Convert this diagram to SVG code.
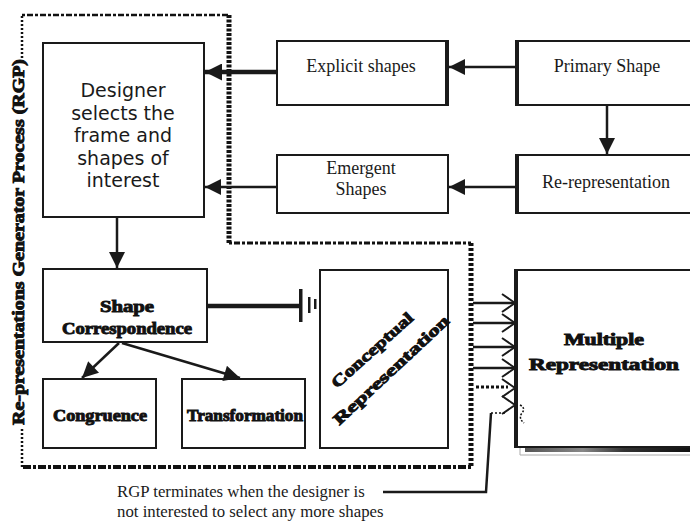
<svg xmlns="http://www.w3.org/2000/svg" width="690" height="525" viewBox="0 0 690 525">
  <defs>
    <style>
      .box { fill: #fff; stroke: #1a1a1a; stroke-width: 2; }
      .edge { fill: none; stroke: #1a1a1a; stroke-width: 4; }
      .sans { font-family: "DejaVu Sans", Verdana, sans-serif; font-size: 19px; fill: #1a1a1a; text-anchor: middle; }
      .serif { font-family: "Liberation Serif", "Times New Roman", serif; font-size: 18px; fill: #1a1a1a; text-anchor: middle; }
      .heavy { font-family: "Liberation Serif", "Times New Roman", serif; font-weight: bold; font-size: 16px; fill: #111; stroke: #111; stroke-width: 0.9; text-anchor: middle; }
      .note { font-family: "Liberation Serif", "Times New Roman", serif; font-size: 16.8px; fill: #1a1a1a; }
      .conn { fill: none; stroke: #1a1a1a; stroke-width: 2.5; }
      .thick { stroke-width: 4.5; }
      .openhead { fill: none; stroke: #1a1a1a; stroke-width: 2; }
      .dots { fill: none; stroke: #111; }
    </style>
    <marker id="head" viewBox="0 0 10 10" refX="10" refY="5" markerUnits="userSpaceOnUse" markerWidth="18" markerHeight="16" orient="auto">
      <path d="M0,0 L10,5 L0,10 Z" fill="#1a1a1a"/>
    </marker>
    <marker id="headBig" viewBox="0 0 10 10" refX="10" refY="5" markerUnits="userSpaceOnUse" markerWidth="21" markerHeight="17" orient="auto">
      <path d="M0,0 L10,5 L0,10 Z" fill="#1a1a1a"/>
    </marker>
    <linearGradient id="shadowGrad" x1="0" y1="0" x2="1" y2="0">
      <stop offset="0" stop-color="#555"/>
      <stop offset="0.35" stop-color="#888"/>
      <stop offset="0.6" stop-color="#333"/>
      <stop offset="1" stop-color="#111"/>
    </linearGradient>
  </defs>

  <rect width="690" height="525" fill="#fff"/>

  <!-- dotted boundary of the generator process -->
  <g id="process-boundary">
    <path class="dots" d="M22,15 H229" stroke-width="2.5" stroke-dasharray="3 2 6 2"/>
    <path class="dots" d="M229,15 V243" stroke-width="5" stroke-dasharray="3 1.5"/>
    <path class="dots" d="M229,243 H471" stroke-width="3" stroke-dasharray="3 2 6 2"/>
    <path class="dots" d="M471,243 V467" stroke-width="5" stroke-dasharray="3 2"/>
    <path class="dots" d="M471,467 H22" stroke-width="4" stroke-dasharray="3 2 8 2"/>
    <path class="dots" d="M22,467 V428" stroke-width="2.5" stroke-dasharray="2 2"/>
    <path class="dots" d="M22,58 V15" stroke-width="2.5" stroke-dasharray="2 2"/>
    <text class="heavy" x="24" y="242" transform="rotate(-90 24 242)" font-size="15" textLength="366" lengthAdjust="spacingAndGlyphs">Re-presentations Generator Process (RGP)</text>
  </g>

  <!-- upper nodes -->
  <g id="designer">
    <rect class="box" x="43" y="43" width="161" height="174"/>
    <text class="sans"><tspan x="123" y="97">Designer</tspan><tspan x="123" y="119.5">selects the</tspan><tspan x="123" y="142">frame and</tspan><tspan x="123" y="164.5">shapes of</tspan><tspan x="123" y="187">interest</tspan></text>
  </g>

  <g id="explicit-shapes">
    <rect class="box" x="277" y="41" width="171" height="64"/>
    <line class="edge" x1="447" y1="40" x2="447" y2="106"/>
    <text class="serif" x="361" y="72">Explicit shapes</text>
  </g>

  <g id="primary-shape">
    <rect class="box" x="517" y="41" width="180" height="64"/>
    <line class="edge" x1="517" y1="40" x2="517" y2="106"/>
    <text class="serif" x="607" y="72">Primary Shape</text>
  </g>

  <g id="emergent-shapes">
    <rect class="box" x="277" y="155" width="171" height="58"/>
    <text class="serif"><tspan x="361" y="174">Emergent</tspan><tspan x="361" y="195">Shapes</tspan></text>
  </g>

  <g id="re-representation">
    <rect class="box" x="517" y="155" width="180" height="58"/>
    <line class="edge" x1="517" y1="154" x2="517" y2="214"/>
    <text class="serif" x="606" y="188">Re-representation</text>
  </g>

  <!-- lower nodes -->
  <g id="shape-correspondence">
    <rect class="box" x="43" y="269" width="164" height="73" stroke-width="2.5"/>
    <text class="heavy" font-size="18"><tspan x="127" y="312" textLength="54" lengthAdjust="spacingAndGlyphs">Shape</tspan><tspan x="127" y="334" textLength="130" lengthAdjust="spacingAndGlyphs">Correspondence</tspan></text>
  </g>

  <g id="congruence">
    <rect class="box" x="43" y="379" width="113" height="69" stroke-width="2.5"/>
    <text class="heavy" x="100" y="421" font-size="17" textLength="94" lengthAdjust="spacingAndGlyphs">Congruence</text>
  </g>

  <g id="transformation">
    <rect class="box" x="182" y="379" width="123" height="69" stroke-width="2.5"/>
    <text class="heavy" x="245" y="421" font-size="17" textLength="116" lengthAdjust="spacingAndGlyphs">Transformation</text>
  </g>

  <g id="conceptual-representation">
    <rect class="box" x="320" y="270" width="128" height="178"/>
    <text class="heavy" x="372" y="350" dominant-baseline="central" font-size="17" textLength="104" lengthAdjust="spacingAndGlyphs" transform="rotate(-42 372 350)">Conceptual</text>
    <text class="heavy" x="391" y="370" dominant-baseline="central" font-size="17" textLength="152" lengthAdjust="spacingAndGlyphs" transform="rotate(-43 391 370)">Representation</text>
  </g>

  <g id="multiple-representation">
    <rect x="525" y="447" width="165" height="5" fill="url(#shadowGrad)"/>
    <path d="M520,447 V455 H690" fill="none" stroke="#aaa" stroke-width="1"/>
    <rect class="box" x="516" y="270" width="180" height="177"/>
    <line class="edge" x1="516" y1="269" x2="516" y2="448"/>
    <text class="heavy"><tspan x="604" y="345" textLength="80" lengthAdjust="spacingAndGlyphs">Multiple</tspan><tspan x="604" y="370" textLength="150" lengthAdjust="spacingAndGlyphs">Representation</tspan></text>
  </g>

  <!-- connectors -->
  <g id="connectors">
    <line class="conn thick" x1="277" y1="72" x2="205" y2="72" marker-end="url(#headBig)"/>
    <line class="conn" x1="517" y1="67" x2="449" y2="67" marker-end="url(#head)"/>
    <line class="conn" x1="607" y1="106" x2="607" y2="154" marker-end="url(#head)"/>
    <line class="conn" x1="517" y1="187" x2="449" y2="187" marker-end="url(#head)"/>
    <line class="conn" x1="277" y1="187" x2="205" y2="187" marker-end="url(#head)"/>
    <line class="conn" x1="117" y1="218" x2="117" y2="268" marker-end="url(#head)"/>
    <line class="conn" x1="119" y1="343" x2="82" y2="378" marker-end="url(#head)"/>
    <line class="conn" x1="122" y1="343" x2="240" y2="378" marker-end="url(#head)"/>

    <!-- terminated link to the conceptual representation -->
    <line class="conn thick" x1="207" y1="306" x2="300" y2="306"/>
    <rect x="299" y="289" width="3.5" height="33" fill="#1a1a1a"/>
    <rect x="308" y="297" width="2.5" height="16" fill="#1a1a1a"/>
    <rect x="314" y="299" width="2.5" height="10" fill="#1a1a1a"/>

    <!-- inputs into multiple representation -->
    <line class="conn" x1="473" y1="303" x2="514" y2="303" stroke-width="2"/>
    <line class="conn" x1="473" y1="323" x2="514" y2="323" stroke-width="3"/>
    <line class="conn" x1="473" y1="347" x2="514" y2="347" stroke-width="2"/>
    <line class="conn" x1="473" y1="368" x2="514" y2="368" stroke-width="2"/>
    <line class="dots" x1="476" y1="387" x2="508" y2="387" stroke-width="3" stroke-dasharray="3 2"/>
    <path class="openhead" d="M502,294 L515,303 L502,312"/>
    <path class="openhead" d="M502,314 L515,323 L502,332"/>
    <path class="openhead" d="M502,338 L515,347 L502,356"/>
    <path class="openhead" d="M502,359 L515,368 L502,377"/>
    <path class="openhead" d="M502,379 L515,388 L502,397"/>
    <path class="openhead" d="M502,396 L515,405 L502,414"/>

    <!-- termination note leader -->
    <path class="conn" d="M383,492 H486 L491,413" stroke-width="2"/>
    <path class="dots" d="M491,413 H507" stroke-width="1.5" stroke-dasharray="2 2"/>
    <path class="dots" d="M520,405 q6,3 2,8 q-4,5 2,10" stroke-width="1.5" stroke-dasharray="2 1.5"/>
  </g>

  <g id="termination-note">
    <text class="note"><tspan x="117" y="497">RGP terminates when the designer is</tspan><tspan x="117" y="517">not interested to select any more shapes</tspan></text>
  </g>
</svg>
